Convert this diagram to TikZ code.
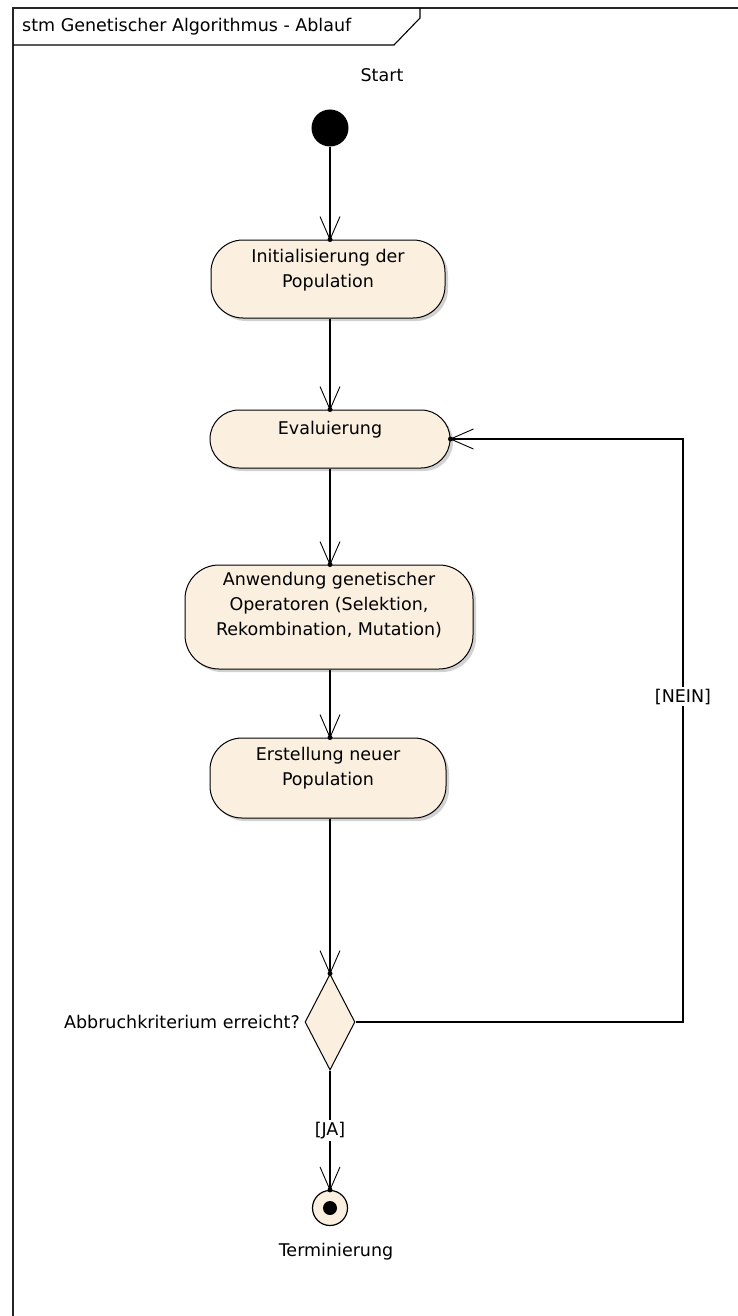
\documentclass[tikz,border=0pt]{standalone}
\usepackage{fontspec}
\setmainfont{DejaVu Sans}
\usetikzlibrary{arrows.meta,shapes.geometric,shadows}
\definecolor{cream}{RGB}{251,240,224}
\pgfdeclarearrow{
  name = OpenVee,
  parameters = {\the\pgfarrowlength,\the\pgfarrowwidth},
  setup code = {
    \pgfarrowssettipend{\pgfarrowlength}
    \pgfarrowssetlineend{\pgfarrowlength}
    \pgfarrowssavethe\pgfarrowlength
    \pgfarrowssavethe\pgfarrowwidth
  },
  drawing code = {
    \pgfsetlinewidth{0.9pt}
    \pgfsetdash{}{0pt}
    \pgfpathmoveto{\pgfqpoint{0pt}{.5\pgfarrowwidth}}
    \pgfpathlineto{\pgfqpoint{\pgfarrowlength}{0pt}}
    \pgfpathlineto{\pgfqpoint{0pt}{-.5\pgfarrowwidth}}
    \pgfusepathqstroke
  },
  defaults = {length=23pt, width=20pt}
}
\begin{document}
\begin{tikzpicture}[x=1pt,y=-1pt,
  every node/.style={font=\fontsize{17.5}{25}\selectfont, inner sep=0pt},
  act/.style={draw, line width=1pt, fill=cream, drop shadow={shadow xshift=3pt, shadow yshift=-3pt, fill=black!35}},
  txt/.style={align=center},
  flow/.style={draw, line width=1.1pt, -{OpenVee[length=23pt, width=20pt]}},
  tipdot/.style={fill=black},
  guard/.style={fill=white, inner sep=2pt}]
\useasboundingbox (0,0) rectangle (738,1316);
% frame
\draw[line width=1.6pt, black!85] (13,1320) -- (13,8) -- (740,8);
\draw[line width=1.1pt] (13,45) -- (394,45) -- (420,18) -- (420,8);
\node[anchor=west] (title) at (22,27) {stm Genetischer Algorithmus - Ablauf};
% initial
\node[circle, fill=black, minimum size=37pt] (start) at (330,128) {};
\node (startlbl) at (382,75) {Start};
% activities
\node[act, rounded corners=32pt, minimum width=234pt, minimum height=78pt] (init) at (328,279) {};
\node[txt] (initt) at (328,270) {Initialisierung der\\Population};
\node[act, rounded corners=29pt, minimum width=240pt, minimum height=58pt] (eval) at (330,439) {};
\node[txt] (evalt) at (330,430) {Evaluierung};
\node[act, rounded corners=34pt, minimum width=288pt, minimum height=104pt] (anw) at (329,617) {};
\node[txt] (anwt) at (329,605) {Anwendung genetischer\\Operatoren (Selektion,\\Rekombination, Mutation)};
\node[act, rounded corners=32pt, minimum width=236pt, minimum height=80pt] (erst) at (328,778) {};
\node[txt] (erstt) at (328,768) {Erstellung neuer\\Population};
% decision
\node[diamond, draw, line width=1pt, fill=cream, minimum width=50pt, minimum height=96pt, inner sep=0pt] (dec) at (330,1022) {};
\node[anchor=east] (declbl) at (300,1022) {Abbruchkriterium erreicht?};
% final
\node[circle, draw, line width=1.2pt, fill=cream, minimum size=35pt] (fin) at (330,1208) {};
\fill (fin.center) circle (7pt);
\node (finlbl) at (336,1252) {Terminierung};
% connectors (common axis x = 330)
\coordinate (ax) at (330,0);
\draw[flow] (start) -- (ax |- init.north);
\fill[tipdot] (ax |- init.north) circle (2.5pt);
\draw[flow] (ax |- init.south) -- (ax |- eval.north);
\fill[tipdot] (ax |- eval.north) circle (2.5pt);
\draw[flow] (ax |- eval.south) -- (ax |- anw.north);
\fill[tipdot] (ax |- anw.north) circle (2.5pt);
\draw[flow] (ax |- anw.south) -- (ax |- erst.north);
\fill[tipdot] (ax |- erst.north) circle (2.5pt);
\draw[flow] (ax |- erst.south) -- (dec.north);
\fill[tipdot] (dec.north) circle (2.5pt);
\coordinate (nx) at (683,0);
\draw[flow] (dec.east) -| (nx |- eval.east) node[guard, pos=0.779] (nein) {[NEIN]} -- (eval.east);
\fill[tipdot] (eval.east) circle (2.5pt);
\draw[flow] (dec.south) -- node[guard, pos=0.5] (ja) {[JA]} (fin.north);
\fill[tipdot] (fin.north) circle (2.5pt);
\end{tikzpicture}
\end{document}
